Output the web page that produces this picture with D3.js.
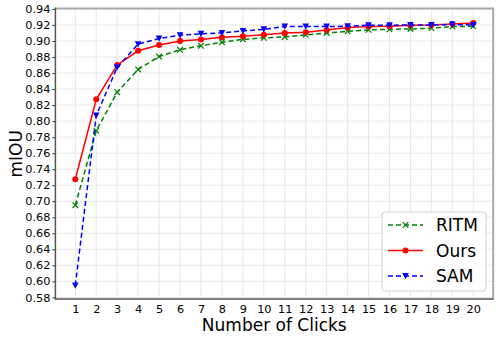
<!DOCTYPE html>
<html>
<head>
<meta charset="utf-8">
<script src="https://cdn.jsdelivr.net/npm/d3@7"></script>
<style>
  body { margin: 0; background: #fff; }
  text { font-family: "DejaVu Sans", sans-serif; fill: #000; }
</style>
</head>
<body>
<div id="canvas"></div>
<script>
"use strict"

/* Drawing dimensions */
let svgWidth = 499;
let svgHeight = 340;
let plotLeft = 55.4, plotRight = 493.2, plotTop = 8.5, plotBottom = 299;

/* Data */
let clicks = [1, 2, 3, 4, 5, 6, 7, 8, 9, 10, 11, 12, 13, 14, 15, 16, 17, 18, 19, 20];
let ritm = [0.695, 0.788, 0.836, 0.8645, 0.8806, 0.889, 0.894, 0.8984, 0.902, 0.9039,
            0.905, 0.9076, 0.910, 0.912, 0.9138, 0.9145, 0.915, 0.916, 0.918, 0.9183];
let ours = [0.7275, 0.8272, 0.870, 0.8877, 0.895, 0.900, 0.9017, 0.9046, 0.9058, 0.9076,
            0.910, 0.911, 0.9138, 0.9167, 0.918, 0.9183, 0.9196, 0.920, 0.9213, 0.9225];
let sam = [0.595, 0.807, 0.867, 0.896, 0.903, 0.907, 0.909, 0.910, 0.9125, 0.9145,
           0.918, 0.918, 0.918, 0.9183, 0.9196, 0.9196, 0.920, 0.920, 0.9205, 0.920];
let yTicks = d3.range(0.58, 0.9401, 0.02);

let series = [
    { name: "RITM", values: ritm, color: "#008000", dash: "5,3", marker: "x" },
    { name: "Ours", values: ours, color: "#ff0000", dash: null, marker: "o" },
    { name: "SAM", values: sam, color: "#0000ff", dash: "5,3", marker: "v" }
];

let svg = d3.select("#canvas")
    .append("svg")
    .attr("width", svgWidth)
    .attr("height", svgHeight);

let xScale = d3.scaleLinear()
    .domain([0.05, 20.95])
    .range([plotLeft, plotRight]);

let yScale = d3.scaleLinear()
    .domain([0.578, 0.9405])
    .range([plotBottom, plotTop]);

/* grid */
svg.append("g")
    .selectAll("line.gx")
    .data(clicks)
    .join("line")
    .attr("x1", d => xScale(d)).attr("x2", d => xScale(d))
    .attr("y1", plotTop).attr("y2", plotBottom)
    .attr("stroke", "#e8e8e8").attr("stroke-width", 1);

svg.append("g")
    .selectAll("line.gy")
    .data(yTicks)
    .join("line")
    .attr("y1", d => yScale(d)).attr("y2", d => yScale(d))
    .attr("x1", plotLeft).attr("x2", plotRight)
    .attr("stroke", "#e8e8e8").attr("stroke-width", 1);

/* axes */
let yAxis = svg.append("g")
    .attr("transform", "translate(" + plotLeft + ",0)")
    .call(d3.axisLeft(yScale).tickValues(yTicks).tickFormat(d3.format(".2f")).tickSize(3).tickPadding(2));
yAxis.select(".domain").remove();
yAxis.selectAll(".tick line").attr("stroke", "#333");
yAxis.selectAll("text").style("font-size", "11.3px").style("font-family", "DejaVu Sans");

let xAxis = svg.append("g")
    .attr("transform", "translate(0," + plotBottom + ")")
    .call(d3.axisBottom(xScale).tickValues(clicks).tickSize(0).tickPadding(6));
xAxis.select(".domain").remove();
xAxis.selectAll("text").style("font-size", "11.3px").style("font-family", "DejaVu Sans");

/* spines */
svg.append("line").attr("x1", plotLeft).attr("x2", plotRight).attr("y1", plotTop).attr("y2", plotTop)
    .attr("stroke", "#a8a8a8").attr("stroke-width", 2);
svg.append("line").attr("x1", plotRight).attr("x2", plotRight).attr("y1", plotTop - 1).attr("y2", plotBottom + 1)
    .attr("stroke", "#a8a8a8").attr("stroke-width", 2);
svg.append("line").attr("x1", plotLeft).attr("x2", plotRight).attr("y1", plotBottom).attr("y2", plotBottom)
    .attr("stroke", "#555").attr("stroke-width", 1.5);
svg.append("line").attr("x1", plotLeft).attr("x2", plotLeft).attr("y1", plotTop - 1).attr("y2", plotBottom + 0.75)
    .attr("stroke", "#555").attr("stroke-width", 1.5);

/* marker drawing */
function drawMarker(g, type, color, cx, cy) {
    if (type === "o") {
        g.append("circle").attr("cx", cx).attr("cy", cy).attr("r", 3).attr("fill", color);
    } else if (type === "v") {
        g.append("path")
            .attr("d", "M" + (cx - 3.3) + "," + (cy - 3) + "L" + (cx + 3.3) + "," + (cy - 3) + "L" + cx + "," + (cy + 3.3) + "Z")
            .attr("fill", color);
    } else {
        g.append("path")
            .attr("d", "M" + (cx - 2.8) + "," + (cy - 2.8) + "L" + (cx + 2.8) + "," + (cy + 2.8) +
                "M" + (cx - 2.8) + "," + (cy + 2.8) + "L" + (cx + 2.8) + "," + (cy - 2.8))
            .attr("stroke", color).attr("stroke-width", 1.2).attr("fill", "none");
    }
}

let line = d3.line()
    .x((d, i) => xScale(clicks[i]))
    .y(d => yScale(d));

series.forEach(function (s) {
    let g = svg.append("g");
    g.append("path")
        .attr("d", line(s.values))
        .attr("fill", "none")
        .attr("stroke", s.color)
        .attr("stroke-width", 1.5)
        .attr("stroke-dasharray", s.dash);
    s.values.forEach(function (v, i) {
        drawMarker(g, s.marker, s.color, xScale(clicks[i]), yScale(v));
    });
});

/* axis labels */
svg.append("text")
    .attr("x", (plotLeft + plotRight) / 2)
    .attr("y", 331)
    .attr("text-anchor", "middle")
    .style("font-size", "17px")
    .text("Number of Clicks");

svg.append("text")
    .attr("transform", "translate(22," + ((plotTop + plotBottom) / 2) + ") rotate(-90)")
    .attr("text-anchor", "middle")
    .style("font-size", "17px")
    .text("mIOU");

/* legend */
let legend = svg.append("g");
legend.append("rect")
    .attr("x", 382).attr("y", 212).attr("width", 104).attr("height", 79)
    .attr("rx", 3)
    .attr("fill", "#fff").attr("fill-opacity", 0.85)
    .attr("stroke", "#d0d0d0").attr("stroke-width", 1);

series.forEach(function (s, i) {
    let ly = 225 + i * 25.5;
    legend.append("line")
        .attr("x1", 388).attr("x2", 423).attr("y1", ly).attr("y2", ly)
        .attr("stroke", s.color).attr("stroke-width", 1.5)
        .attr("stroke-dasharray", s.dash);
    drawMarker(legend, s.marker, s.color, 405.5, ly);
    legend.append("text")
        .attr("x", 436).attr("y", ly + 6)
        .style("font-size", "17px")
        .text(s.name);
});
</script>
</body>
</html>
